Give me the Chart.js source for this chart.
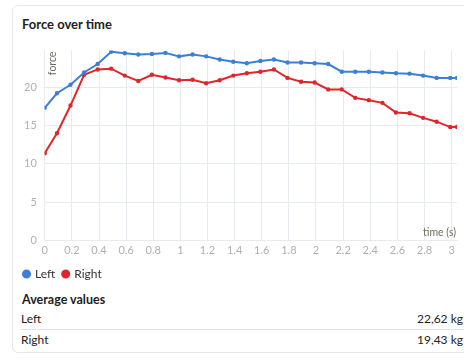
<!DOCTYPE html>
<html>
<head>
<meta charset="utf-8">
<script src="https://cdn.jsdelivr.net/npm/chart.js@4"></script>
<style>
  body { margin: 0; background: #fff; font-family: Lato, "Noto Sans", sans-serif; color: #222; }
  .card { position: absolute; left: 12px; top: 5px; width: 470px; height: 346px;
          border: 1px solid #e4e7eb; border-radius: 6px; }
  .title { position: absolute; left: 22px; top: 16px; font-size: 13px; font-weight: bold; }
  .wrap { position: absolute; left: 14px; top: 36px; width: 450px; height: 254px; }
  .avg { position: absolute; left: 22px; top: 292px; font-size: 12.5px; font-weight: bold; }
  .row { position: absolute; left: 21px; width: 443px; height: 20px; font-size: 12px; line-height: 20px; }
  .row span { position: absolute; right: 1px; }
  .sep { border-bottom: 1px solid #dfe3e8; }
</style>
</head>
<body>
<div class="card"></div>
<div class="title">Force over time</div>
<div class="wrap"><canvas id="forceChart"></canvas></div>
<div class="avg">Average values</div>
<div class="row sep" style="top:309px">Left<span>22,62 kg</span></div>
<div class="row" style="top:330px">Right<span>19,43 kg</span></div>
<script>
// time in seconds
const times = [0, 0.09, 0.19, 0.29, 0.39, 0.49, 0.59, 0.69, 0.79, 0.89, 0.99, 1.09, 1.19, 1.29, 1.39, 1.49,
  1.59, 1.69, 1.79, 1.89, 1.99, 2.09, 2.19, 2.29, 2.39, 2.49, 2.59, 2.69, 2.79, 2.89, 2.99, 3.04];
const leftForce = [17.3, 19.2, 20.3, 21.9, 23.0, 24.6, 24.4, 24.25, 24.3, 24.45, 24.0, 24.25, 24.0, 23.6, 23.3, 23.1,
  23.4, 23.6, 23.2, 23.2, 23.1, 23.0, 22.0, 22.0, 22.0, 21.9, 21.8, 21.75, 21.5, 21.2, 21.2, 21.2];
const rightForce = [11.4, 14.0, 17.6, 21.6, 22.3, 22.4, 21.5, 20.8, 21.6, 21.25, 20.9, 20.95, 20.5, 20.9, 21.5, 21.8,
  22.0, 22.3, 21.2, 20.7, 20.6, 19.7, 19.7, 18.6, 18.3, 17.95, 16.7, 16.6, 16.0, 15.5, 14.8, 14.8];
const xTickStep = 0.2;
const xTickLast = 3;
const yTickStep = 5;

const BLUE = '#3b7fd6';
const RED = '#e0262b';

function toPoints(vals) {
  return vals.map((v, i) => ({ x: times[i], y: v }));
}

// axis titles drawn inside the plot area
const axisTitles = {
  id: 'axisTitles',
  afterDraw(chart) {
    const { ctx, chartArea } = chart;
    ctx.save();
    ctx.font = '10.5px Lato, "Noto Sans", sans-serif';
    ctx.fillStyle = '#6f6a62';
    ctx.textBaseline = 'middle';
    ctx.textAlign = 'right';
    ctx.fillText('time (s)', chartArea.right - 1, chartArea.bottom - 8);
    ctx.translate(chartArea.left + 8, chartArea.top + 1);
    ctx.rotate(-Math.PI / 2);
    ctx.textAlign = 'right';
    ctx.fillText('force', 0, 0);
    ctx.restore();
  }
};

new Chart(document.getElementById('forceChart'), {
  type: 'line',
  data: {
    datasets: [{
      label: 'Left',
      data: toPoints(leftForce),
      borderColor: BLUE,
      backgroundColor: BLUE,
      borderWidth: 2,
      pointRadius: 1.2,
      tension: 0
    }, {
      label: 'Right',
      data: toPoints(rightForce),
      borderColor: RED,
      backgroundColor: RED,
      borderWidth: 2,
      pointRadius: 1.2,
      tension: 0
    }]
  },
  options: {
    responsive: true,
    maintainAspectRatio: false,
    animation: false,
    layout: { padding: { left: 2, right: 7, top: 7 } },
    plugins: {
      legend: {
        position: 'bottom',
        align: 'start',
        labels: {
          usePointStyle: true,
          pointStyle: 'circle',
          boxWidth: 5,
          boxHeight: 5,
          padding: 8,
          color: '#333',
          font: { size: 12, family: 'Lato, "Noto Sans", sans-serif' }
        }
      },
      tooltip: { enabled: false }
    },
    scales: {
      x: {
        type: 'linear',
        min: 0,
        max: times[times.length - 1],
        afterBuildTicks(scale) {
          const ticks = [];
          for (let i = 0; i * xTickStep <= xTickLast + 1e-9; i++) {
            ticks.push({ value: Math.round(i * xTickStep * 10) / 10 });
          }
          scale.ticks = ticks;
        },
        ticks: {
          stepSize: xTickStep,
          color: '#b0b0b0',
          maxRotation: 0,
          autoSkip: false,
          padding: 3,
          font: { size: 11, family: 'Lato, "Noto Sans", sans-serif' },
          callback: v => String(Math.round(v * 10) / 10)
        },
        grid: { color: '#e7eaef', drawTicks: false },
        border: { color: '#e7eaef' }
      },
      y: {
        min: 0,
        max: 24.75,
        afterBuildTicks(scale) {
          scale.ticks = scale.ticks.filter(t => t.value % yTickStep === 0);
        },
        ticks: {
          stepSize: yTickStep,
          color: '#b0b0b0',
          padding: 8,
          font: { size: 11, family: 'Lato, "Noto Sans", sans-serif' }
        },
        grid: { color: '#e7eaef', drawTicks: false },
        border: { color: '#e7eaef' }
      }
    }
  },
  plugins: [axisTitles]
});
</script>
</body>
</html>
